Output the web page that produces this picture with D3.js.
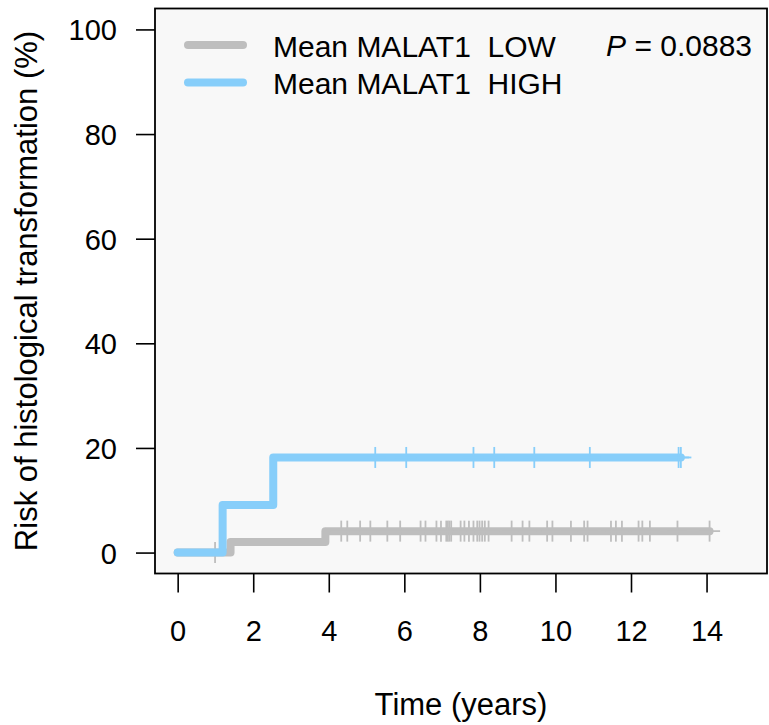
<!DOCTYPE html>
<html>
<head>
<meta charset="utf-8">
<script src="https://cdn.jsdelivr.net/npm/d3@7/dist/d3.min.js"></script>
<style>
  html, body { margin: 0; padding: 0; background: #ffffff; }
  svg { display: block; }
  text { font-family: "Liberation Sans", Arial, Helvetica, sans-serif; fill: #000; }
</style>
</head>
<body>
<div id="chart"></div>
<script>
// ---------------- DATA ----------------
const groupNames = ["Mean MALAT1  LOW", "Mean MALAT1  HIGH"];
const groupColors = ["#BEBEBE", "#87CEFA"];
const pValueText = "0.0883";

// Step function (cumulative risk %) for LOW group
const lowEventTimes = [0, 1.40, 3.91];
const lowRisk = [0, 2.0, 4.1];
const lowEndTime = 14.08;
const lowCensorTimes = [0.99, 4.33, 4.49, 4.83, 5.10, 5.55, 5.89, 6.43, 6.56, 6.85, 6.97, 7.11, 7.15, 7.19, 7.24,
  7.49, 7.59, 7.71, 7.83, 7.93, 7.99, 8.06, 8.13, 8.23, 8.84, 9.13, 9.31, 9.78, 9.92, 10.41, 10.76, 10.85,
  11.47, 11.60, 11.76, 12.20, 12.30, 12.50, 13.23, 14.08];

// Step function (cumulative risk %) for HIGH group
const highEventTimes = [0, 1.19, 2.53];
const highRisk = [0, 9.09, 18.18];
const highEndTime = 13.32;
const highCensorTimes = [5.23, 6.05, 7.83, 8.38, 9.44, 10.91, 13.26, 13.32];

const xTicks = [0, 2, 4, 6, 8, 10, 12, 14];
const yTicks = [0, 20, 40, 60, 80, 100];
const xTitle = "Time (years)";
const yTitle = "Risk of histological transformation (%)";

// ---------------- LAYOUT ----------------
const W = 769, H = 725;
const box = { left: 155, right: 767, top: 8.5, bottom: 573.5 };
const lineW = 8;
const fsTick = 29, fsLab = 30, fsTitle = 31;

const svg = d3.select("#chart").append("svg").attr("width", W).attr("height", H);

// R-style 4% extension of xlim [0,15], ylim [0,100]
const x = d3.scaleLinear().domain([-0.6, 15.6]).range([box.left, box.right]);
const y = d3.scaleLinear().domain([-4, 104]).range([box.bottom, box.top]);

// plot background
svg.append("rect")
  .attr("x", box.left).attr("y", box.top)
  .attr("width", box.right - box.left).attr("height", box.bottom - box.top)
  .attr("fill", "#F8F8F8");

// ---------------- CURVES ----------------
function stepPoints(times, risks, endTime) {
  const pts = times.map((t, i) => [t, risks[i]]);
  pts.push([endTime, risks[risks.length - 1]]);
  return pts;
}
function valueAt(times, risks, t) {
  let v = risks[0];
  for (let i = 0; i < times.length; i++) if (times[i] <= t) v = risks[i];
  return v;
}
const line = d3.line().x(d => x(d[0])).y(d => y(d[1])).curve(d3.curveStepAfter);

const groups = [
  { times: lowEventTimes, risks: lowRisk, end: lowEndTime, cens: lowCensorTimes, color: groupColors[0] },
  { times: highEventTimes, risks: highRisk, end: highEndTime, cens: highCensorTimes, color: groupColors[1] }
];

const cs = 10.5; // censor mark half-size
groups.forEach(g => {
  svg.append("path")
    .datum(stepPoints(g.times, g.risks, g.end))
    .attr("d", line)
    .attr("fill", "none")
    .attr("stroke", g.color)
    .attr("stroke-width", lineW)
    .attr("stroke-linejoin", "round")
    .attr("stroke-linecap", "round");
  const marks = svg.append("g");
  g.cens.forEach(t => {
    const cx = x(t), cy = y(valueAt(g.times, g.risks, t));
    marks.append("line").attr("x1", cx).attr("x2", cx).attr("y1", cy - cs).attr("y2", cy + cs)
      .attr("stroke", g.color).attr("stroke-width", 1.8);
    marks.append("line").attr("x1", cx - cs).attr("x2", cx + cs).attr("y1", cy).attr("y2", cy)
      .attr("stroke", g.color).attr("stroke-width", 1.8);
  });
});

// ---------------- AXES ----------------
const xAxis = svg.append("g")
  .attr("transform", `translate(0,${box.bottom})`)
  .call(d3.axisBottom(x).tickValues(xTicks).tickFormat(d3.format("d")).tickSize(19).tickPadding(0));
xAxis.select(".domain").remove();
xAxis.selectAll(".tick line").attr("stroke", "#000").attr("stroke-width", 1.6);
xAxis.selectAll(".tick text").attr("y", 67.5).attr("dy", 0)
  .style("font-size", fsTick + "px").style("font-family", "'Liberation Sans', Arial, sans-serif").attr("fill", "#000");

const yAxis = svg.append("g")
  .attr("transform", `translate(${box.left},0)`)
  .call(d3.axisLeft(y).tickValues(yTicks).tickFormat(d3.format("d")).tickSize(19).tickPadding(19));
yAxis.select(".domain").remove();
yAxis.selectAll(".tick line").attr("stroke", "#000").attr("stroke-width", 1.6);
yAxis.selectAll(".tick text").attr("dy", "0.36em")
  .style("font-size", fsTick + "px").style("font-family", "'Liberation Sans', Arial, sans-serif").attr("fill", "#000");

// box
svg.append("rect")
  .attr("x", box.left).attr("y", box.top)
  .attr("width", box.right - box.left).attr("height", box.bottom - box.top)
  .attr("fill", "none").attr("stroke", "#000").attr("stroke-width", 1.8);

// titles
svg.append("text")
  .attr("x", (box.left + box.right) / 2).attr("y", 714.5)
  .attr("text-anchor", "middle").style("font-size", fsTitle + "px")
  .text(xTitle);
svg.append("text")
  .attr("transform", `translate(36.5,${(box.top + box.bottom) / 2}) rotate(-90)`)
  .attr("text-anchor", "middle").style("font-size", fsTitle + "px")
  .text(yTitle);

// ---------------- LEGEND ----------------
const legY = [45, 82.5];
const legBase = [56.5, 93.5];
groupNames.forEach((name, i) => {
  svg.append("line")
    .attr("x1", 188).attr("x2", 243).attr("y1", legY[i]).attr("y2", legY[i])
    .attr("stroke", groupColors[i]).attr("stroke-width", lineW).attr("stroke-linecap", "round");
  svg.append("text")
    .attr("x", 273).attr("y", legBase[i])
    .style("font-size", fsLab + "px").style("white-space", "pre")
    .attr("xml:space", "preserve")
    .text(name);
});
const pt = svg.append("text")
  .attr("x", 752).attr("y", 55.5).attr("text-anchor", "end")
  .style("font-size", fsLab + "px");
pt.append("tspan").style("font-style", "italic").text("P");
pt.append("tspan").text(" = " + pValueText);
</script>
</body>
</html>
